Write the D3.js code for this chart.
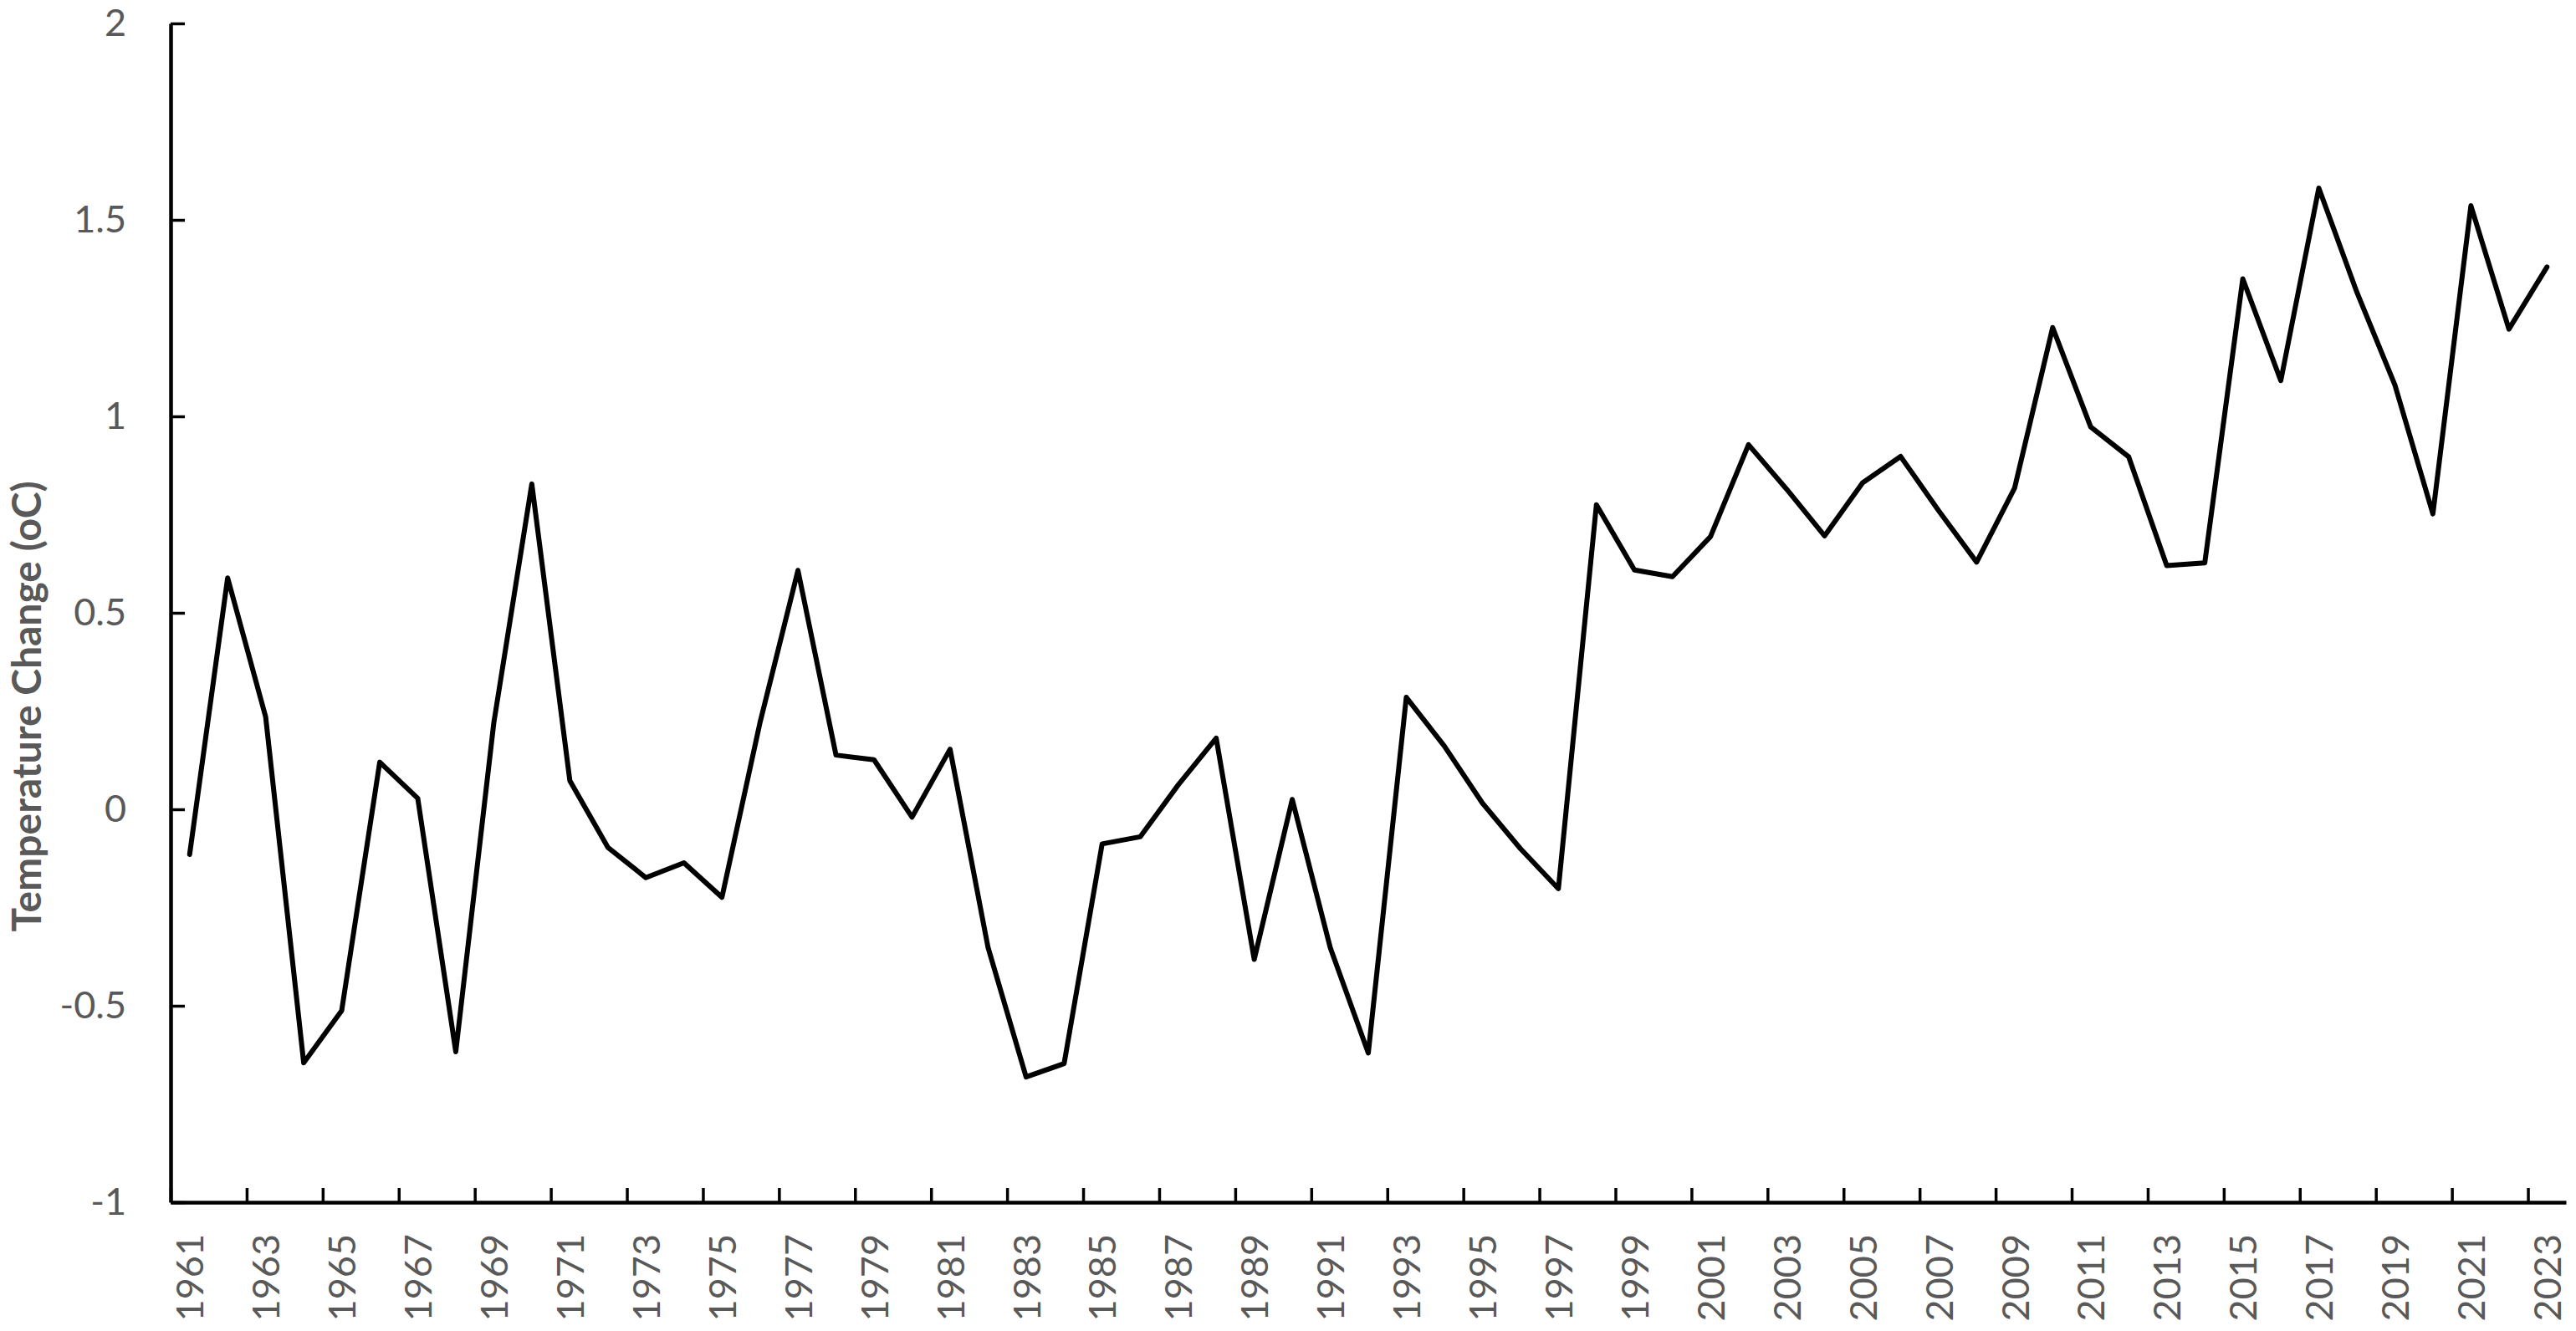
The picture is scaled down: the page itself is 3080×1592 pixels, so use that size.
<!DOCTYPE html>
<html lang="en">
    <head>
	<meta charset="utf-8">
	<title>Temperature Change</title>
	<script src="https://cdn.jsdelivr.net/npm/d3@7/dist/d3.min.js" charset="utf-8"></script>
	<style>
	 body { margin: 0; background: #fff; }
	</style>
    </head>
    <body>
	<script type="text/javascript">

	 //Data
	 var years = [1961, 1962, 1963, 1964, 1965, 1966, 1967, 1968, 1969, 1970,
		      1971, 1972, 1973, 1974, 1975, 1976, 1977, 1978, 1979, 1980,
		      1981, 1982, 1983, 1984, 1985, 1986, 1987, 1988, 1989, 1990,
		      1991, 1992, 1993, 1994, 1995, 1996, 1997, 1998, 1999, 2000,
		      2001, 2002, 2003, 2004, 2005, 2006, 2007, 2008, 2009, 2010,
		      2011, 2012, 2013, 2014, 2015, 2016, 2017, 2018, 2019, 2020,
		      2021, 2022, 2023];

	 var tempChange = [-0.115, 0.589, 0.235, -0.645, -0.512, 0.12, 0.028, -0.617, 0.22, 0.828,
			   0.073, -0.097, -0.174, -0.136, -0.224, 0.22, 0.608, 0.138, 0.126, -0.02,
			   0.153, -0.352, -0.681, -0.647, -0.088, -0.07, 0.062, 0.181, -0.382, 0.025,
			   -0.352, -0.62, 0.285, 0.161, 0.016, -0.1, -0.202, 0.775, 0.609, 0.592,
			   0.694, 0.928, 0.815, 0.696, 0.831, 0.898, 0.76, 0.629, 0.818, 1.226,
			   0.973, 0.897, 0.62, 0.627, 1.35, 1.091, 1.581, 1.316, 1.08, 0.752,
			   1.536, 1.222, 1.38];

	 var yTicks = [-1, -0.5, 0, 0.5, 1, 1.5, 2];
	 var yTickLabels = ["-1", "-0.5", "0", "0.5", "1", "1.5", "2"];
	 var xLabelYears = [1961, 1963, 1965, 1967, 1969, 1971, 1973, 1975, 1977, 1979,
			    1981, 1983, 1985, 1987, 1989, 1991, 1993, 1995, 1997, 1999,
			    2001, 2003, 2005, 2007, 2009, 2011, 2013, 2015, 2017, 2019,
			    2021, 2023];
	 var yTitle = "Temperature Change (oC)";

	 //Display specifications
	 var width = 3080;
	 var height = 1592;
	 var plot = {left: 204, right: 3068, top: 28, bottom: 1438};
	 var labelColor = "#595959";
	 var font = "Lato, 'Open Sans', sans-serif";

	 var svg = d3.select("body")
		     .append("svg")
		     .attr("width", width)
		     .attr("height", height)
		     .style("display", "block");

	 svg.append("rect")
	    .attr("width", width)
	    .attr("height", height)
	    .attr("fill", "#fff");

	 var data = years.map(function (y, i) {
	     return {year: y, value: tempChange[i]};
	 });

	 //Categories sit between tick marks, so the domain runs half a year past each end
	 var xScale = d3.scaleLinear()
			.domain([years[0] - 0.5, years[years.length - 1] + 0.5])
			.range([plot.left, plot.right]);

	 var yScale = d3.scaleLinear()
			.domain([-1, 2])
			.range([plot.bottom, plot.top]);

	 //Tick marks on the boundaries, every second category
	 var tickBounds = xLabelYears.map(function (y) { return y - 0.5; });

	 var xTickAxis = d3.axisBottom(xScale)
			   .tickValues(tickBounds)
			   .tickSizeInner(-17)
			   .tickSizeOuter(0)
			   .tickFormat("");

	 var gxTicks = svg.append("g")
			  .attr("transform", "translate(0," + plot.bottom + ")")
			  .call(xTickAxis);
	 gxTicks.select(".domain")
		.attr("stroke", "#000")
		.attr("stroke-width", 4.5);
	 gxTicks.selectAll(".tick line")
		.attr("stroke", "#000")
		.attr("stroke-width", 3.5);

	 //Rotated year labels under the category centres
	 var xLabelAxis = d3.axisBottom(xScale)
			    .tickValues(xLabelYears)
			    .tickSize(0)
			    .tickFormat(function (d) { return String(d); });

	 var gxLabels = svg.append("g")
			   .attr("transform", "translate(0," + plot.bottom + ")")
			   .call(xLabelAxis);
	 gxLabels.select(".domain").remove();
	 gxLabels.selectAll("text")
		 .attr("transform", "rotate(-90)")
		 .attr("x", -38)
		 .attr("y", 0)
		 .attr("dy", "0.36em")
		 .attr("text-anchor", "end")
		 .attr("fill", labelColor)
		 .style("font-family", font)
		 .style("font-size", "45px");

	 var yAxis = d3.axisLeft(yScale)
		       .tickValues(yTicks)
		       .tickSizeInner(-17)
		       .tickSizeOuter(0)
		       .tickPadding(53)
		       .tickFormat(function (d) { return yTickLabels[yTicks.indexOf(d)]; });

	 var gy = svg.append("g")
		     .attr("transform", "translate(" + plot.left + ",0)")
		     .call(yAxis);
	 gy.select(".domain")
	   .attr("stroke", "#000")
	   .attr("stroke-width", 4.5);
	 gy.selectAll(".tick line")
	   .attr("stroke", "#000")
	   .attr("stroke-width", 3.5);
	 gy.selectAll("text")
	   .attr("fill", labelColor)
	   .style("font-family", font)
	   .style("font-size", "45px");

	 //Axis title
	 svg.append("text")
	    .attr("transform", "translate(49,845) rotate(-90)")
	    .attr("text-anchor", "middle")
	    .attr("fill", labelColor)
	    .style("font-family", font)
	    .style("font-weight", "bold")
	    .style("font-size", "48px")
	    .text(yTitle);

	 //The series line
	 var line = d3.line()
		      .x(function (d) { return xScale(d.year); })
		      .y(function (d) { return yScale(d.value); });

	 svg.append("path")
	    .datum(data)
	    .attr("d", line)
	    .attr("fill", "none")
	    .attr("stroke", "#000")
	    .attr("stroke-width", 6)
	    .attr("stroke-linejoin", "round")
	    .attr("stroke-linecap", "round");

	</script>
    </body>
</html>
